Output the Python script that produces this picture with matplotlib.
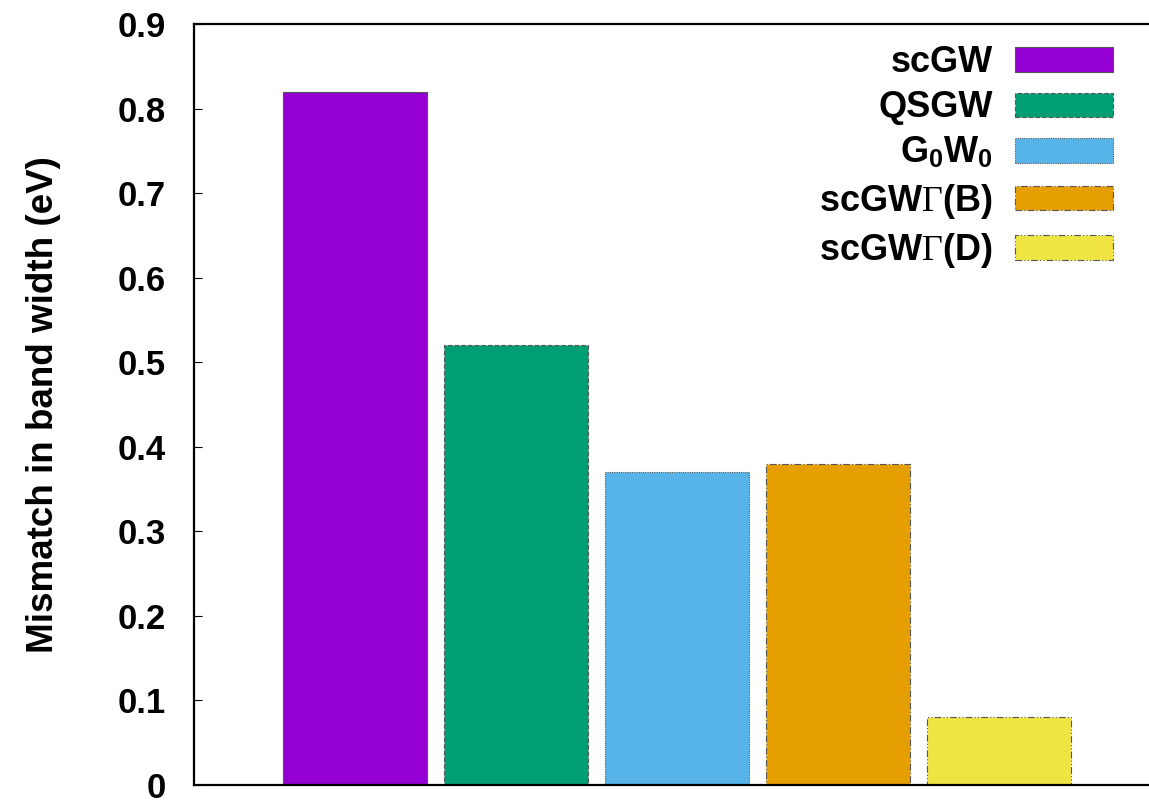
import matplotlib
matplotlib.use('Agg')
import matplotlib.pyplot as plt

methods = ['scGW', 'QSGW', r'G$_\mathbf{0}$W$_\mathbf{0}$', r'scGW$\Gamma$(B)', r'scGW$\Gamma$(D)']
mismatch = [0.82, 0.52, 0.37, 0.38, 0.08]
colors = ['#9400D3', '#009E73', '#56B4E9', '#E69F00', '#F0E442']
edge_styles = ['-', (0, (4, 2)), (0, (1, 1)), (0, (6, 2, 1, 2)), (0, (6, 2, 1, 2, 1, 2))]
yticks = [0, 0.1, 0.2, 0.3, 0.4, 0.5, 0.6, 0.7, 0.8, 0.9]

plt.rcParams['font.family'] = 'Liberation Sans'
plt.rcParams['font.weight'] = 'bold'
plt.rcParams['mathtext.fontset'] = 'custom'
plt.rcParams['mathtext.rm'] = 'Liberation Serif:weight=normal'
plt.rcParams['mathtext.it'] = 'Liberation Serif:weight=normal'
plt.rcParams['mathtext.bf'] = 'Liberation Sans:bold'

fig = plt.figure(figsize=(11.49, 8.01), dpi=100)
ax = fig.add_axes([194/1149, 16/801, (1160-194)/1149, (785-24)/801])

xpos = [1, 2, 3, 4, 5]
for x, v, c, ls, lab in zip(xpos, mismatch, colors, edge_styles, methods):
    ax.bar(x, v, width=0.9, color=c, edgecolor='#555555', linewidth=0.8,
           linestyle=ls, label=lab)

ax.set_xlim(0, 6)
ax.set_ylim(0, 0.9)
ax.set_xticks([])
ax.set_yticks(yticks)
ax.set_yticklabels(['0' if t == 0 else '{:.1f}'.format(t) for t in yticks])
ax.tick_params(axis='y', direction='in', length=6, width=0.8, right=True,
               labelsize=25, pad=20)
for s in ax.spines.values():
    s.set_linewidth(1.6)

ax.set_ylabel('Mismatch in band width (eV)', fontsize=26.5, fontweight='bold', labelpad=41)

leg = ax.legend(loc='upper right', bbox_to_anchor=(1113/1149, 1 - 45/801),
                bbox_transform=fig.transFigure, markerfirst=False, frameon=False,
                fontsize=26, handlelength=2.72, handleheight=0.67, labelspacing=0.29,
                handletextpad=0.6, borderaxespad=0, borderpad=0)
for t in leg.get_texts():
    t.set_ha('right')
leg._legend_box.align = 'right'

fig.savefig('out.png', dpi=100, facecolor='white')
